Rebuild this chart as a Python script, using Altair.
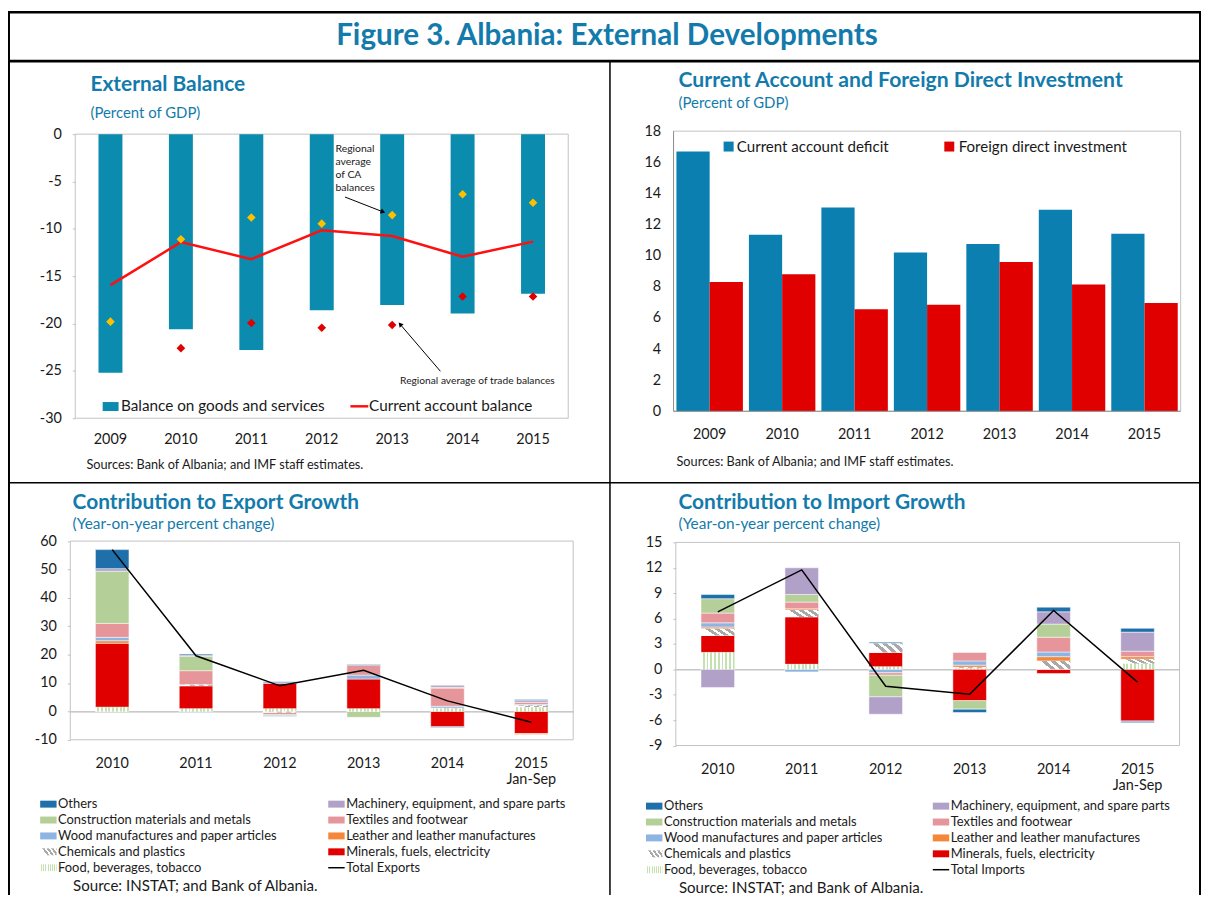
import altair as alt
import pandas as pd

FONT = "Lato"
TEAL = "#137bab"
INK = "#1a1a1a"
FRAME = "#c3c3c3"
W, H = 1201, 890

# ---------------- Panel 1: External Balance ----------------
eb_years = ["2009", "2010", "2011", "2012", "2013", "2014", "2015"]
eb_goods = [-25.2, -20.6, -22.8, -18.6, -18.05, -18.95, -16.85]
eb_ca = [-15.95, -11.4, -13.2, -10.15, -10.75, -12.95, -11.35]
eb_reg_ca = [-19.8, -11.1, -8.8, -9.45, -8.55, -6.35, -7.25]
eb_reg_trade = [None, -22.6, -19.95, -20.45, -20.15, -17.15, -17.15]

# annotation arrows, x in year-index units, y in percent of GDP
arrow_x = [3.33, 4.685]
arrow_y = [-6.64, -25.04]
arrow_x2 = [3.86, 4.12]
arrow_y2 = [-8.18, -20.14]
arrow_angle = [111, 319]
note_ca_text = "Regional\naverage\nof CA\nbalances"
note_ca_pos = [3.195, -1.02]
note_tr_text = "Regional average of trade balances"
note_tr_pos = [4.112, -26.05]

# ---------------- Panel 2: CA and FDI ----------------
cf_years = eb_years
cf_cad = [16.7, 11.35, 13.1, 10.2, 10.75, 12.95, 11.4]
cf_fdi = [8.3, 8.8, 6.55, 6.85, 9.6, 8.15, 6.95]

# ---------------- Panels 3 & 4: contributions ----------------
gr_years = ["2010", "2011", "2012", "2013", "2014", "2015"]
gr_cats = [
    "Food, beverages, tobacco",
    "Minerals, fuels, electricity",
    "Chemicals and plastics",
    "Leather and leather manufactures",
    "Wood manufactures and paper articles",
    "Textiles and footwear",
    "Construction materials and metals",
    "Machinery, equipment, and spare parts",
    "Others",
]
exp_food = [1.5, 0.9, 0.9, 0.9, 1.0, 1.5]
exp_minerals = [22.5, 8.1, 9.0, 10.5, -5.4, -7.8]
exp_chem = [0.0, 0.35, -0.4, 0.0, 0.2, 0.6]
exp_leather = [0.9, 0.1, 0.0, 0.0, 0.0, -0.35]
exp_wood = [1.2, -0.4, 0.6, 1.4, 0.6, 0.3]
exp_textiles = [4.9, 4.9, -0.8, 3.5, 6.4, 0.8]
exp_construction = [18.4, 5.0, -0.3, -2.1, 0.3, 0.0]
exp_machinery = [0.9, 0.5, 0.0, 0.0, 0.7, 0.6]
exp_others = [6.7, 0.35, -0.25, 0.25, -0.25, 0.4]
exp_total = [57.0, 19.6, 9.0, 14.5, 3.7, -3.8]

imp_food = [2.0, 0.6, 0.3, 0.1, 0.0, 0.65]
imp_minerals = [2.0, 5.6, 1.7, -3.7, -0.5, -6.1]
imp_chem = [0.8, 0.8, 1.05, 0.15, 1.0, 0.55]
imp_leather = [0.2, 0.15, 0.0, 0.25, 0.5, 0.3]
imp_wood = [0.5, -0.3, -0.4, 0.5, 0.55, -0.25]
imp_textiles = [1.15, 0.8, -0.3, 1.0, 1.75, 0.65]
imp_construction = [1.7, 0.9, -2.55, -1.0, 1.55, 0.0]
imp_machinery = [-2.15, 3.15, -2.05, 0.0, 1.45, 2.25]
imp_others = [0.5, 0.0, 0.15, -0.4, 0.55, 0.45]
imp_total = [6.8, 11.75, -2.0, -2.95, 6.95, -1.5]

cat_colors = ["#ffffff", "#e00000", "#ffffff", "#f4873a", "#8eb4e3",
              "#e6969a", "#b4d098", "#b1a0c7", "#1f6fab"]


def stripes(c1, c2, n, frac, x2, y2):
    stops = []
    for i in range(n):
        a, b, c = i / n, (i + frac) / n, (i + 1) / n
        stops += [alt.GradientStop(color=c1, offset=a), alt.GradientStop(color=c1, offset=b),
                  alt.GradientStop(color=c2, offset=b), alt.GradientStop(color=c2, offset=c)]
    return alt.LinearGradient(gradient="linear", stops=stops, x1=0, y1=0, x2=x2, y2=y2)


HATCH = stripes("#ffffff", "#a9a9a9", 4, 0.45, 1, -0.3)
DOTS = stripes("#ffffff", "#c4e2b0", 9, 0.5, 1, 0)
cat_fill = dict(zip(gr_cats, cat_colors))
cat_fill[gr_cats[2]] = HATCH
cat_fill[gr_cats[0]] = DOTS

ONE = alt.Data(values=[{"k": 1}])
RX = 4  # small shift for the right-hand column


def tx(s, x, y, size, color=INK, weight="normal", align="left", baseline="middle", lh=None):
    kw = dict(align=align, baseline=baseline, fontSize=size, font=FONT, color=color,
              fontWeight=weight, lineBreak="\n")
    if lh is not None:
        kw["lineHeight"] = lh
    return alt.Chart(alt.Data(values=[{"t": s}])).mark_text(**kw).encode(
        x=alt.value(x), y=alt.value(y), text="t:N")


def hl(x1, x2, y, color="#000000", w=1.0):
    return alt.Chart(ONE).mark_rule(color=color, strokeWidth=w).encode(
        x=alt.value(x1), x2=alt.value(x2), y=alt.value(y))


def vl(x, y1, y2, color="#000000", w=1.0):
    return alt.Chart(ONE).mark_rule(color=color, strokeWidth=w).encode(
        x=alt.value(x), y=alt.value(y1), y2=alt.value(y2))


def rect(x1, x2, y1, y2, fill):
    return alt.Chart(ONE).mark_rect(fill=fill).encode(
        x=alt.value(x1), x2=alt.value(x2), y=alt.value(y1), y2=alt.value(y2))


def frame(x1, x2, y1, y2, color=FRAME):
    return alt.Chart(ONE).mark_rect(fill="#ffffff", fillOpacity=0, stroke=color, strokeWidth=1).encode(
        x=alt.value(x1), x2=alt.value(x2), y=alt.value(y1), y2=alt.value(y2))


def long_df(series):
    rows = []
    for ci, (cat, vals) in enumerate(zip(gr_cats, series)):
        for yr, v in zip(gr_years, vals):
            rows.append({"year": yr, "cat": cat, "order": ci, "value": v})
    return pd.DataFrame(rows)


layers = []

# ---------------- page furniture ----------------
layers += [
    hl(0, W, 1.2, "#000000", 2.5),
    vl(1, 0, H, "#000000", 2),
    vl(W - 1, 0, H, "#000000", 2),
    hl(0, W, 50.5, "#000000", 3),
    vl(602 + RX, 50.5, H, "#000000", 1.5),
    hl(0, W, 475, "#000000", 1.5),
    tx("Figure 3. Albania: External Developments", 603, 25, 29.8, TEAL, "bold", "center"),
]

# ---------------- Panel 1 ----------------
P1X, P1Y = [67.7, 564], [410, 124]
xs1 = alt.Scale(domain=eb_years, range=P1X, paddingInner=0.66, paddingOuter=0.33)
ys1 = alt.Scale(domain=[-30, 0], range=P1Y, nice=False, zero=False)
xi1 = alt.Scale(domain=[-0.5, 6.5], range=P1X, nice=False, zero=False)
df_eb = pd.DataFrame({"year": eb_years, "goods": eb_goods, "ca": eb_ca,
                      "rca": eb_reg_ca, "rtr": eb_reg_trade})
df_rtr = df_eb.dropna(subset=["rtr"])
df_arrow = pd.DataFrame({"x": arrow_x, "y": arrow_y, "x2": arrow_x2, "y2": arrow_y2, "ang": arrow_angle})

layers += [
    frame(P1X[0], P1X[1], P1Y[1], P1Y[0]),
    alt.Chart(df_eb).mark_bar(color="#0b8bad").encode(
        x=alt.X("year:N", scale=xs1, title="",
                axis=alt.Axis(orient="bottom", offset=P1Y[0] - H, ticks=False, domain=False,
                              labelPadding=14, labelAngle=0, labelFontSize=14.5)),
        y=alt.Y("goods:Q", scale=ys1, title="",
                axis=alt.Axis(orient="left", offset=-P1X[0], values=[0, -5, -10, -15, -20, -25, -30],
                              tickSize=3, tickColor=FRAME, domain=False, labelPadding=11,
                              labelFontSize=14.5, labelExpr="'' + datum.value"))),
    alt.Chart(df_eb).mark_line(color="#ff1010", strokeWidth=2.5).encode(
        x=alt.X("year:N", scale=xs1, axis=None), y=alt.Y("ca:Q", scale=ys1, axis=None)),
    alt.Chart(df_eb).mark_point(shape="diamond", filled=True, size=75, color="#ffc000", opacity=1).encode(
        x=alt.X("year:N", scale=xs1, axis=None), y=alt.Y("rca:Q", scale=ys1, axis=None)),
    alt.Chart(df_rtr).mark_point(shape="diamond", filled=True, size=75, color="#e00000", opacity=1).encode(
        x=alt.X("year:N", scale=xs1, axis=None), y=alt.Y("rtr:Q", scale=ys1, axis=None)),
    alt.Chart(df_arrow).mark_rule(color="#000000", strokeWidth=1).encode(
        x=alt.X("x:Q", scale=xi1, axis=None), x2="x2:Q",
        y=alt.Y("y:Q", scale=ys1, axis=None), y2="y2:Q"),
    alt.Chart(df_arrow).mark_point(shape="triangle", filled=True, size=28, color="#000000", opacity=1).encode(
        x=alt.X("x2:Q", scale=xi1, axis=None), y=alt.Y("y2:Q", scale=ys1, axis=None),
        angle=alt.Angle("ang:Q", scale=None)),
    alt.Chart(pd.DataFrame({"x": [note_ca_pos[0]], "y": [note_ca_pos[1]], "t": [note_ca_text]})).mark_text(
        align="left", baseline="top", fontSize=10.5, font=FONT, color=INK, lineBreak="\n", lineHeight=13.3).encode(
        x=alt.X("x:Q", scale=xi1, axis=None), y=alt.Y("y:Q", scale=ys1, axis=None), text="t:N"),
    alt.Chart(pd.DataFrame({"x": [note_tr_pos[0]], "y": [note_tr_pos[1]], "t": [note_tr_text]})).mark_text(
        align="left", baseline="middle", fontSize=10.3, font=FONT, color=INK).encode(
        x=alt.X("x:Q", scale=xi1, axis=None), y=alt.Y("y:Q", scale=ys1, axis=None), text="t:N"),
    rect(95.3, 111.3, 393.7, 402.7, "#0b8bad"),
    tx("Balance on goods and services", 113.7, 398, 15.4),
    hl(344.7, 362.7, 398, "#ff1010", 2.5),
    tx("Current account balance", 363.5, 398, 15.4),
    tx("External Balance", 83, 75, 21, TEAL, "bold"),
    tx("(Percent of GDP)", 83, 103, 15, TEAL),
    tx("Sources: Bank of Albania; and IMF staff estimates.", 79, 457, 12.8),
]

# ---------------- Panel 2 ----------------
P2X, P2Y = [666 + RX, 1176.5 + RX], [403, 121]
xs2 = alt.Scale(domain=cf_years, range=P2X, paddingInner=0.083, paddingOuter=0.04)
ys2 = alt.Scale(domain=[0, 18], range=P2Y, nice=False, zero=False)
df_cf = pd.DataFrame({"year": cf_years * 2, "series": ["cad"] * 7 + ["fdi"] * 7,
                      "value": cf_cad + cf_fdi})
layers += [
    frame(P2X[0], P2X[1], P2Y[1], P2Y[0]),
    vl(P2X[0], P2Y[1], P2Y[0], "#8f8f8f", 1),
    alt.Chart(df_cf).mark_bar().encode(
        x=alt.X("year:N", scale=xs2, title="",
                axis=alt.Axis(orient="bottom", offset=P2Y[0] - H, ticks=False, domain=False,
                              labelPadding=16, labelAngle=0, labelFontSize=14.5)),
        xOffset=alt.XOffset("series:N", scale=alt.Scale(domain=["cad", "fdi"], paddingInner=0, paddingOuter=0)),
        y=alt.Y("value:Q", scale=ys2, title="",
                axis=alt.Axis(orient="left", offset=-P2X[0], values=list(range(0, 19, 2)),
                              ticks=False, domain=False, labelPadding=13, labelFontSize=14.5)),
        color=alt.Color("series:N", scale=alt.Scale(domain=["cad", "fdi"], range=["#0b80b0", "#e00000"]),
                        legend=None)),
    hl(P2X[0], P2X[1], P2Y[0], "#8f8f8f", 1),
    rect(716.4 + RX, 726.5 + RX, 131.5, 141.5, "#0b80b0"),
    tx("Current account deficit", 729.7 + RX, 136.5, 15.2),
    rect(938.6 + RX, 948.6 + RX, 131.5, 141.5, "#e00000"),
    tx("Foreign direct investment", 953 + RX, 136.5, 15.2),
    tx("Current Account and Foreign Direct Investment", 671 + RX, 71, 21.3, TEAL, "bold"),
    tx("(Percent of GDP)", 671 + RX, 93, 15, TEAL),
    tx("Sources: Bank of Albania; and IMF staff estimates.", 669 + RX, 454, 12.8),
]


# ---------------- Panels 3 & 4 ----------------
def contrib_panel(series, total, PX, PY, ydom, yvals, title, total_label, lx, rx, rows, src_pos, title_x):
    xs = alt.Scale(domain=gr_years, range=PX, paddingInner=0.6, paddingOuter=0.3)
    ys = alt.Scale(domain=ydom, range=PY, nice=False, zero=False)
    zero_y = PY[0] - (0 - ydom[0]) * (PY[0] - PY[1]) / (ydom[1] - ydom[0])
    df = long_df(series)
    df_tot = pd.DataFrame({"year": gr_years, "total": total})
    base = alt.Chart(df).transform_stack(
        stack="value", as_=["v0", "v1"], groupby=["year"],
        sort=[alt.SortField(field="order", order="ascending")]).transform_filter("datum.value != 0")
    out = [
        frame(PX[0], PX[1], PY[1], PY[0]),
        base.mark_bar(stroke="#ffffff", strokeWidth=0.5).encode(
            x=alt.X("year:N", scale=xs, title="",
                    axis=alt.Axis(orient="bottom", offset=PY[0] - H, ticks=False, domain=False,
                                  labelPadding=17, labelAngle=0, labelFontSize=14.5, labelLineHeight=16,
                                  labelExpr="datum.value == '2015' ? ['2015', 'Jan-Sep'] : datum.value")),
            y=alt.Y("v0:Q", scale=ys, title="",
                    axis=alt.Axis(orient="left", offset=-PX[0], values=yvals, tickSize=3, tickColor=FRAME,
                                  domain=False, labelPadding=11, labelFontSize=14.5,
                                  labelExpr="'' + datum.value")),
            y2="v1:Q",
            color=alt.Color("cat:N", scale=alt.Scale(domain=gr_cats, range=cat_colors), legend=None)),
        base.transform_filter(alt.datum.cat == gr_cats[2]).mark_bar(fill=HATCH).encode(
            x=alt.X("year:N", scale=xs, axis=None), y=alt.Y("v0:Q", scale=ys, axis=None), y2="v1:Q"),
        base.transform_filter(alt.datum.cat == gr_cats[0]).mark_bar(fill=DOTS).encode(
            x=alt.X("year:N", scale=xs, axis=None), y=alt.Y("v0:Q", scale=ys, axis=None), y2="v1:Q"),
        alt.Chart(df_tot).mark_line(color="#000000", strokeWidth=1.5).encode(
            x=alt.X("year:N", scale=xs, title="",
                    axis=alt.Axis(orient="top", offset=-zero_y, labels=False, ticks=True, tickSize=4,
                                  tickColor="#a6a6a6", domain=True, domainColor="#a6a6a6",
                                  bandPosition=1.75)),
            y=alt.Y("total:Q", scale=ys, axis=None)),
        tx(title, title_x, 495, 21, TEAL, "bold"),
        tx("(Year-on-year percent change)", title_x, 517, 15.5, TEAL),
        tx("Source: INSTAT; and Bank of Albania.", src_pos[0], src_pos[1], 15.2),
    ]
    left = ["Others", "Construction materials and metals", "Wood manufactures and paper articles",
            "Chemicals and plastics", "Food, beverages, tobacco"]
    right = ["Machinery, equipment, and spare parts", "Textiles and footwear",
             "Leather and leather manufactures", "Minerals, fuels, electricity"]
    for name, yy in zip(left, rows):
        out += [rect(lx, lx + 16.5, yy - 3.5, yy + 3.5, cat_fill[name]), tx(name, lx + 18, yy, 13)]
    for name, yy in zip(right, rows):
        out += [rect(rx, rx + 16.5, yy - 3.5, yy + 3.5, cat_fill[name]), tx(name, rx + 18, yy, 13)]
    out += [hl(rx, rx + 16.5, rows[4], "#000000", 1.5), tx(total_label, rx + 18, rows[4], 13)]
    return out


layers += contrib_panel(
    [exp_food, exp_minerals, exp_chem, exp_leather, exp_wood, exp_textiles,
     exp_construction, exp_machinery, exp_others],
    exp_total, [62.7, 569], [733.7, 533.7], [-10, 60], list(range(-10, 61, 10)),
    "Contribution to Export Growth", "Total Exports", 32.4, 322.4,
    [798.5, 814.5, 830.5, 846.5, 862.5], (65.5, 880.5), 65)

layers += contrib_panel(
    [imp_food, imp_minerals, imp_chem, imp_leather, imp_wood, imp_textiles,
     imp_construction, imp_machinery, imp_others],
    imp_total, [668.3 + RX, 1175.4 + RX], [739.5, 535], [-9, 15], list(range(-9, 16, 3)),
    "Contribution to Import Growth", "Total Imports", 638.3 + RX, 927 + RX,
    [800.5, 816.5, 832.5, 848.5, 864.5], (671.4 + RX, 883), 671 + RX)

chart = alt.layer(*layers).resolve_scale(
    x="independent", y="independent", color="independent"
).resolve_axis(x="independent", y="independent").properties(
    width=W, height=H, autosize=alt.AutoSizeParams(type="none"), padding=0
).configure_view(strokeWidth=0).configure_axis(
    grid=False, labelFont=FONT, labelColor=INK, labelFontSize=14
)

chart.save("out.html", embed_options={"renderer": "svg", "actions": False})
